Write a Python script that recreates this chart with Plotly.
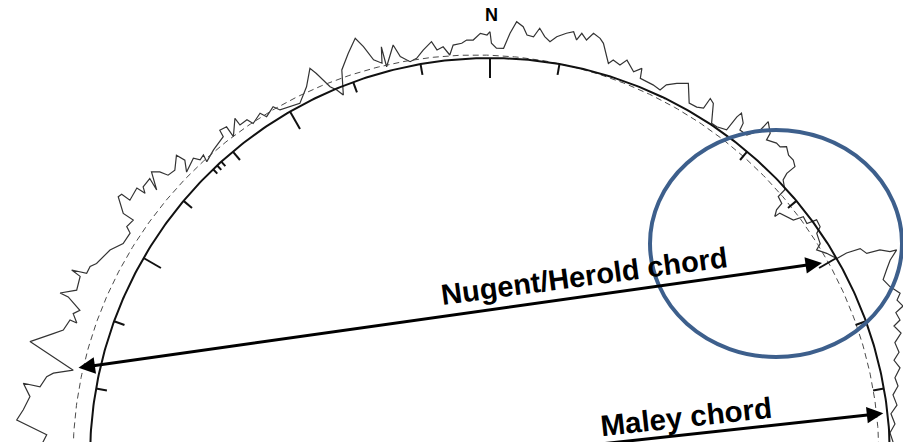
import math
import plotly.graph_objects as go

# Limb profile: position angle (deg from N) and height above mean limb (plot units, moon radius = 400)
profile_pa = [-88.7,-87.0,-85.4,-84.1,-82.4,-80.9,-81.0,-79.6,-79.0,-78.1,
-75.8,-74.8,-74.1,-73.3,-71.8,-71.9,-70.9,-70.2,-69.1,-69.0,
-67.9,-66.1,-65.8,-65.4,-64.4,-63.7,-62.5,-61.3,-59.7,-58.0,
-57.5,-56.3,-56.3,-54.9,-54.4,-54.4,-52.6,-52.5,-52.0,-50.6,
-51.2,-49.8,-49.1,-48.7,-47.6,-46.0,-45.7,-46.7,-44.7,-44.2,
-43.4,-43.7,-41.9,-40.5,-39.7,-39.5,-38.5,-38.6,-36.9,-36.9,
-35.7,-35.3,-33.7,-33.2,-31.7,-31.1,-29.7,-28.2,-26.3,-24.8,
-24.3,-23.8,-23.3,-22.6,-22.0,-20.9,-19.3,-17.8,-17.1,-16.3,
-15.3,-14.8,-14.8,-13.2,-12.6,-11.4,-10.4,-9.3,-8.0,-7.4,
-6.5,-5.7,-5.1,-3.9,-3.2,-2.3,-1.3,-0.4,0.0,0.2,
0.9,1.9,2.7,3.5,4.4,5.0,5.9,6.6,7.4,8.2,
9.0,10.2,11.1,11.7,12.2,13.0,13.7,14.7,15.3,16.7,
17.2,18.3,19.0,20.4,21.3,21.6,22.6,23.6,24.8,25.3,
26.5,27.9,29.3,30.5,31.4,31.5,32.2,33.5,34.4,35.8,
35.9,36.1,37.1,37.3,38.5,39.0,39.5,39.6,40.8,41.0,
42.3,43.0,43.6,44.6,45.5,46.3,46.2,46.2,46.5,47.7,
47.8,48.9,49.1,49.7,49.8,50.9,51.9,52.4,53.5,53.9,
55.0,55.5,57.0,57.5,58.7,60.1,60.1,60.5,61.5,61.9,
62.7,62.9,63.7,64.6,65.6,66.8,68.1,68.8,69.8,70.3,
71.4,71.9,73.1,74.1,75.5,76.4,77.6,78.8,80.0,81.1,
82.6,83.7,85.2,86.4,87.7,88.9]
profile_h = [50.1,43.9,74.8,69.2,64.1,72.6,55.6,50.7,44.8,25.9,
74.5,62.9,54.2,45.5,42.1,34.7,41.1,35.9,51.5,60.5,
46.1,48.3,58.6,43.6,43.4,38.9,36.0,33.2,24.9,24.4,
30.7,28.8,40.8,54.4,53.0,42.9,44.5,34.8,40.2,40.3,
27.7,43.2,36.9,28.5,26.8,35.9,26.4,16.9,21.7,15.8,
17.1,9.9,14.0,15.9,17.6,24.8,23.2,11.3,24.8,16.4,
16.5,9.9,14.4,7.9,12.8,6.5,4.2,2.4,14.1,29.3,
21.9,13.1,4.3,-1.3,-8.5,15.4,28.8,40.9,30.4,14.8,
9.3,25.3,4.7,24.2,11.3,4.3,6.4,13.4,20.4,11.5,
13.9,5.0,14.6,15.7,18.6,18.3,24.8,23.0,26.3,14.7,
9.8,9.9,25.2,37.1,32.6,24.6,23.5,32.6,24.9,20.6,
26.5,31.6,34.4,26.9,34.5,29.0,37.1,33.9,29.9,12.0,
16.7,13.9,20.8,12.0,18.2,8.3,7.6,7.2,5.4,12.7,
18.6,23.9,7.0,7.3,9.9,21.6,19.1,1.5,1.4,4.5,
21.1,26.8,19.7,12.4,12.6,18.0,24.8,36.5,28.8,21.5,
25.7,25.4,30.0,25.2,25.2,21.8,15.9,11.2,4.1,-1.4,
-10.9,-12.8,-20.9,-26.6,-20.6,-17.6,-14.5,-4.5,-5.8,4.2,
3.0,-3.5,-6.3,-12.7,-6.0,0.1,11.3,25.3,28.7,42.0,
50.1,56.8,46.3,39.0,31.7,35.1,42.0,36.6,40.1,31.1,
32.6,25.0,29.6,21.0,22.5,15.7,19.8,12.8,14.3,7.9,
10.4,3.4,6.4,0.8,3.3,1.1]

R_MOON = 400.0
dashed_offset_x = -14.0
dashed_radius = 403.0

tick_pa = [-80, -70, -60, -50, -40, -30, -20, -10, 0, 10, 40, 50, 60, 70, 80]
hash_pa = [-42.2, -43.0, -43.8]

# chord endpoints (plot units, moon centre at origin)
nugent_x = [-413, 332]
nugent_y = [90, 195]
maley_x = [-200, 393.3]
maley_y = [-19.7, 44.7]

fig = go.Figure()

px_, py_ = [], []
for a, hh in zip(profile_pa, profile_h):
    r = R_MOON + hh
    px_.append(r * math.sin(math.radians(a)))
    py_.append(r * math.cos(math.radians(a)))
fig.add_trace(go.Scatter(x=px_, y=py_, mode="lines", line=dict(color="#333333", width=1.2), hoverinfo="skip"))

th = [i * 0.5 for i in range(-200, 201)]
fig.add_trace(go.Scatter(x=[dashed_offset_x + dashed_radius * math.sin(math.radians(t)) for t in th],
                         y=[dashed_radius * math.cos(math.radians(t)) for t in th],
                         mode="lines", line=dict(color="#4a4a4a", width=1, dash="6px,4px"), hoverinfo="skip"))
fig.add_trace(go.Scatter(x=[R_MOON * math.sin(math.radians(t)) for t in th],
                         y=[R_MOON * math.cos(math.radians(t)) for t in th],
                         mode="lines", line=dict(color="#111", width=2), hoverinfo="skip"))

tx, ty = [], []
for a in tick_pa:
    L = 20 if a % 30 == 0 else 11
    s, c = math.sin(math.radians(a)), math.cos(math.radians(a))
    tx += [R_MOON * s, (R_MOON - L) * s, None]
    ty += [R_MOON * c, (R_MOON - L) * c, None]
for a in hash_pa:
    s, c = math.sin(math.radians(a)), math.cos(math.radians(a))
    tx += [R_MOON * s, (R_MOON - 6) * s, None]
    ty += [R_MOON * c, (R_MOON - 6) * c, None]
fig.add_trace(go.Scatter(x=tx, y=ty, mode="lines", line=dict(color="#111", width=2), hoverinfo="skip"))

fig.add_annotation(x=nugent_x[1], y=nugent_y[1], ax=nugent_x[0], ay=nugent_y[0], axref="x", ayref="y",
                   xref="x", yref="y", text="", showarrow=True, arrowhead=2, startarrowhead=2,
                   arrowside="end+start", arrowwidth=3, arrowsize=1.1, startarrowsize=1.1, arrowcolor="#000")
fig.add_annotation(x=maley_x[1], y=maley_y[1], ax=maley_x[0], ay=maley_y[0], axref="x", ayref="y",
                   xref="x", yref="y", text="", showarrow=True, arrowhead=2,
                   arrowwidth=3, arrowsize=1.1, arrowcolor="#000")
fig.add_annotation(x=94, y=182, text="<b>Nugent/Herold chord</b>", showarrow=False, textangle=-7.6,
                   font=dict(family="Liberation Sans, Arial", size=29, color="#000"))
fig.add_annotation(x=196, y=42, text="<b>Maley chord</b>", showarrow=False, textangle=-6.2,
                   font=dict(family="Liberation Sans, Arial", size=29.5, color="#000"))
fig.add_annotation(x=1.5, y=443, text="<b>N</b>", showarrow=False,
                   font=dict(family="Liberation Sans, Arial", size=18, color="#000"))
fig.add_shape(type="circle", xref="x", yref="y", x0=160, x1=412, y0=101, y1=328,
              line=dict(color="#3d5f8c", width=4))

fig.update_layout(width=903, height=442, margin=dict(l=0, r=0, t=0, b=0), showlegend=False,
                  plot_bgcolor="white", paper_bgcolor="white",
                  xaxis=dict(range=[-490, 413], visible=False, fixedrange=True),
                  yaxis=dict(range=[16, 458], visible=False, fixedrange=True))
fig.write_html("out.html", config={"displayModeBar": False},
               post_script="document.body.style.margin='0';document.body.style.overflow='hidden';")
